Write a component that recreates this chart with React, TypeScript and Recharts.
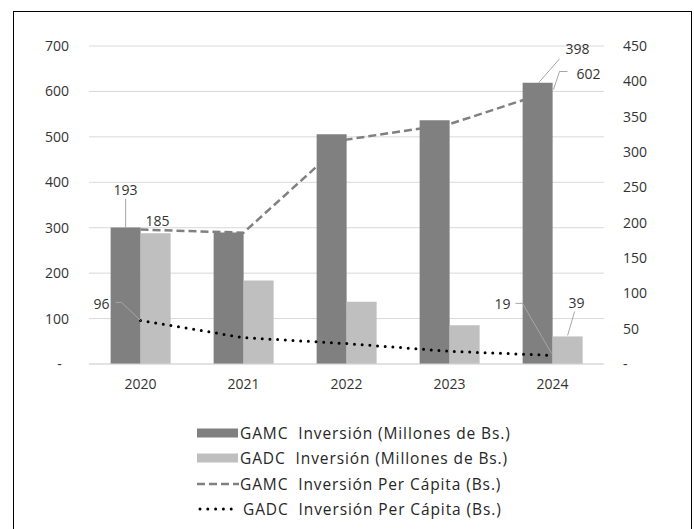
import React from 'react';
import { ComposedChart, Bar, Line, XAxis, YAxis, CartesianGrid, Legend, LabelList } from 'recharts';

const years = ['2020', '2021', '2022', '2023', '2024'];
// bars sit on the right axis, lines on the left one
const gamcInversion = [193, 186, 325, 345, 398];
const gadcInversion = [185, 118, 88, 55, 39];
const gamcPerCapita = [296, 289, 494, 528, 602];
const gadcPerCapita = [96, 58, 45, 28, 19];

const leftTicks = [0, 100, 200, 300, 400, 500, 600, 700];
const rightTicks = [0, 50, 100, 150, 200, 250, 300, 350, 400, 450];

const legendItems = [
  { key: 'gamcInv', name: 'GAMC\u00A0 Inversión (Millones de Bs.)', kind: 'bar', color: '#808080' },
  { key: 'gadcInv', name: 'GADC\u00A0 Inversión (Millones de Bs.)', kind: 'bar', color: '#bfbfbf' },
  { key: 'gamcPc', name: 'GAMC\u00A0 Inversión Per Cápita (Bs.)', kind: 'dash', color: '#808080' },
  { key: 'gadcPc', name: 'GADC\u00A0 Inversión Per Cápita (Bs.)', kind: 'dot', color: '#000000' },
];

const data = years.map((year, i) => ({
  year,
  gamcInv: gamcInversion[i],
  gadcInv: gadcInversion[i],
  gamcPc: gamcPerCapita[i],
  gadcPc: gadcPerCapita[i],
}));

const FONT = '"Open Sans", sans-serif';
const TEXT = '#333333';
const LEADER = '#a6a6a6';

// offsets of each callout relative to its anchor
type Callout = { t: [number, number]; lead?: [number, number][] };

const fmtTick = (v: number) => (v === 0 ? '-\u00A0\u00A0' : String(v));
const fmtTickRight = (v: number) => (v === 0 ? '-' : String(v));

function makeLabel(callouts: Record<number, Callout>, anchor: 'bar' | 'point') {
  return (props: any) => {
    const { index, value } = props;
    const c = callouts[index];
    if (!c) return null;
    let ax = Number(props.x);
    let ay = Number(props.y);
    if (anchor === 'bar') ax = ax + Number(props.width) / 2;
    return (
      <g>
        {c.lead && (
          <polyline
            points={c.lead.map(([dx, dy]) => `${ax + dx},${ay + dy}`).join(' ')}
            fill="none"
            stroke={LEADER}
            strokeWidth={1}
          />
        )}
        <text
          x={ax + c.t[0]}
          y={ay + c.t[1]}
          textAnchor="middle"
          dominantBaseline="central"
          fontFamily={FONT}
          fontSize={14}
          fill={TEXT}
        >
          {value}
        </text>
      </g>
    );
  };
}

const gamcInvLabel = makeLabel(
  {
    0: { t: [0, -38], lead: [[0, -29], [0, 0]] },
    4: { t: [40, -34], lead: [[22, -24], [1, 0]] },
  },
  'bar'
);
const gadcInvLabel = makeLabel(
  {
    0: { t: [2, -13] },
    4: { t: [9, -34], lead: [[7, -25], [0, -1]] },
  },
  'bar'
);
const gamcPcLabel = makeLabel(
  {
    4: { t: [36, -17], lead: [[15, -19], [7, -19], [1, -1]] },
  },
  'point'
);
const gadcPcLabel = makeLabel(
  {
    0: { t: [-39, -17], lead: [[-25, -18], [-19, -18], [0, 0]] },
    4: { t: [-50, -52], lead: [[-37, -52], [-30, -52], [-1, -2]] },
  },
  'point'
);

function LegendIcon({ kind, color }: { kind: string; color: string }) {
  if (kind === 'bar') {
    return (
      <svg width={42} height={14} style={{ display: 'block' }}>
        <rect x={0} y={2.5} width={41} height={9} fill={color} />
      </svg>
    );
  }
  if (kind === 'dash') {
    return (
      <svg width={42} height={14} style={{ display: 'block' }}>
        <line x1={0} y1={7} x2={42} y2={7} stroke={color} strokeWidth={2.5} strokeDasharray="8 4" />
      </svg>
    );
  }
  return (
    <svg width={45} height={14} style={{ display: 'block' }}>
      <line x1={3} y1={7} x2={35} y2={7} stroke={color} strokeWidth={3} strokeDasharray="0 7.8" strokeLinecap="round" />
    </svg>
  );
}

function renderLegend() {
  return (
    <div style={{ height: 130, paddingTop: 26, paddingLeft: 168, boxSizing: 'border-box', fontFamily: FONT }}>
      {legendItems.map((item) => (
        <div key={item.key} style={{ display: 'flex', alignItems: 'center', height: 25.5 }}>
          <LegendIcon kind={item.kind} color={item.color} />
          <span
            style={{ fontSize: 15.5, letterSpacing: 0.9, color: '#262626', whiteSpace: 'pre', marginLeft: 1 }}
          >
            {item.name}
          </span>
        </div>
      ))}
    </div>
  );
}

export default function App() {
  return (
    <div style={{ position: 'absolute', left: 0, top: 0, width: 694, height: 529, background: '#fff', overflow: 'hidden' }}>
      <div
        style={{
          position: 'absolute',
          left: 13,
          top: 11,
          width: 677,
          height: 520,
          border: '1px solid #000',
          borderBottom: 'none',
        }}
      />
      <ComposedChart
        width={694}
        height={529}
        data={data}
        margin={{ top: 46, right: 30, left: 29, bottom: 5 }}
        barCategoryGap="21%"
        barGap={0}
      >
        <CartesianGrid yAxisId="left" vertical={false} stroke="#d9d9d9" />
        <XAxis
          dataKey="year"
          height={30}
          tickLine={false}
          axisLine={{ stroke: '#d9d9d9' }}
          tickSize={0}
          tickMargin={15}
          tick={{ fontFamily: FONT, fontSize: 14, fill: TEXT }}
        />
        <YAxis
          yAxisId="left"
          orientation="left"
          width={60}
          domain={[0, 700]}
          ticks={leftTicks}
          tickFormatter={fmtTick}
          axisLine={false}
          tickLine={false}
          tickSize={0}
          tickMargin={20}
          tick={{ fontFamily: FONT, fontSize: 14, fill: TEXT }}
        />
        <YAxis
          yAxisId="right"
          orientation="right"
          width={60}
          domain={[0, 450]}
          ticks={rightTicks}
          tickFormatter={fmtTickRight}
          axisLine={false}
          tickLine={false}
          tickSize={0}
          tickMargin={19}
          tick={{ fontFamily: FONT, fontSize: 14, fill: TEXT }}
        />
        <Legend verticalAlign="bottom" align="left" content={renderLegend} />
        <Line
          yAxisId="left"
          dataKey="gamcPc"
          name={legendItems[2].name}
          stroke="#808080"
          strokeWidth={2.5}
          strokeDasharray="8 4"
          dot={false}
          activeDot={false}
          isAnimationActive={false}
        >
          <LabelList dataKey="gamcPc" content={gamcPcLabel} />
        </Line>
        <Bar yAxisId="right" dataKey="gamcInv" name={legendItems[0].name} fill="#808080" isAnimationActive={false}>
          <LabelList dataKey="gamcInv" content={gamcInvLabel} />
        </Bar>
        <Bar yAxisId="right" dataKey="gadcInv" name={legendItems[1].name} fill="#bfbfbf" isAnimationActive={false}>
          <LabelList dataKey="gadcInv" content={gadcInvLabel} />
        </Bar>
        <Line
          yAxisId="left"
          dataKey="gadcPc"
          name={legendItems[3].name}
          stroke="#000000"
          strokeWidth={3}
          strokeDasharray="0 7.7"
          strokeLinecap="round"
          dot={false}
          activeDot={false}
          isAnimationActive={false}
        >
          <LabelList dataKey="gadcPc" content={gadcPcLabel} />
        </Line>
      </ComposedChart>
    </div>
  );
}
